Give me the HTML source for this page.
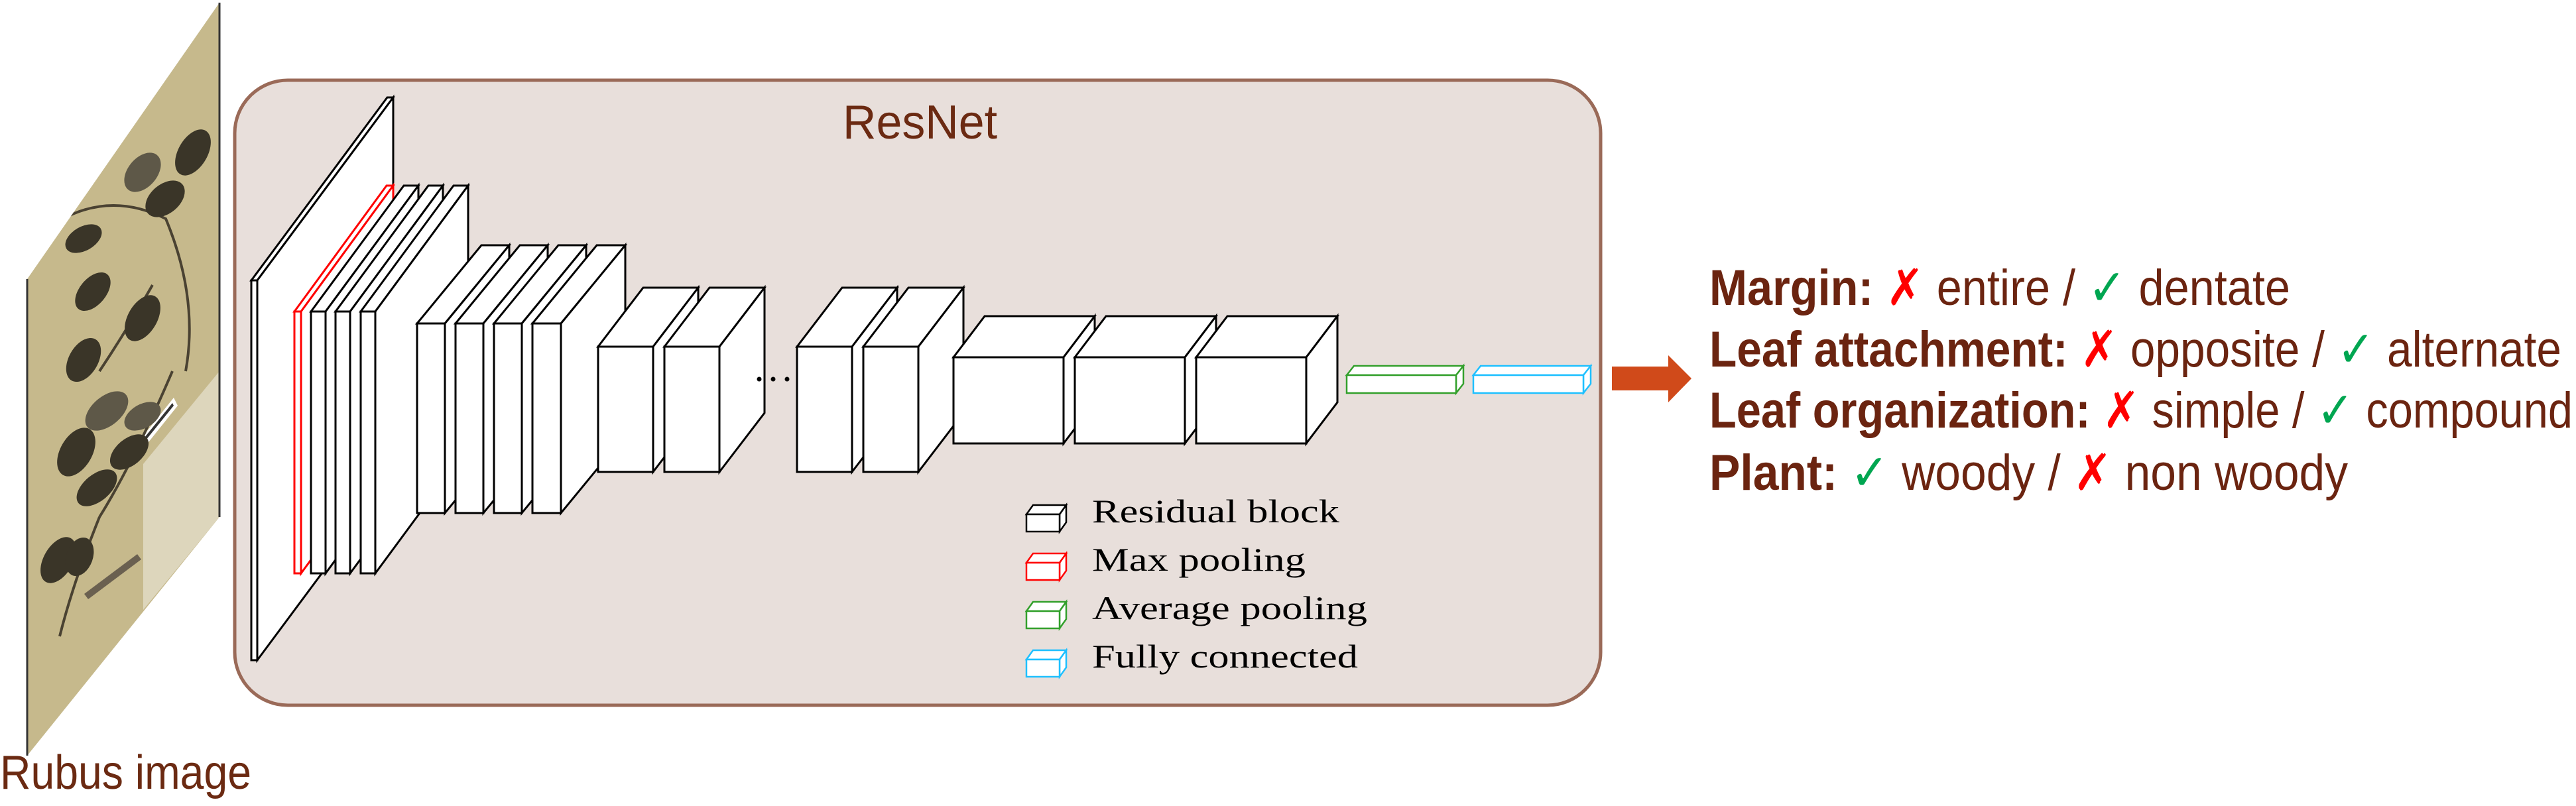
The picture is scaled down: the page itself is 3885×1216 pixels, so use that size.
<!DOCTYPE html>
<html><head><meta charset="utf-8"><style>
html,body{margin:0;padding:0;background:#fff;}
svg{display:block;}
</style></head><body>
<svg width="3885" height="1216" viewBox="0 0 3885 1216" xmlns="http://www.w3.org/2000/svg">
<defs>
<clipPath id="pl"><polygon points="41,421 331,4 331,780 41,1140"/></clipPath>
</defs>
<!-- herbarium plane -->
<polygon points="41,421 331,4 331,780 41,1140" fill="#c6b98c"/>
<g clip-path="url(#pl)">
  <polygon points="216,700 331,560 331,780 216,920" fill="#ddd6bc"/>
  <polygon points="214,660 262,600 268,612 220,672" fill="#fff"/>
  <polygon points="218,660 260,608 262,612 220,664" fill="#333"/>
  <polygon points="62,335 84,305 86,312 64,342" fill="#eee"/>
  <path d="M95 330 Q170 290 250 330 Q300 450 280 560 M230 430 Q190 500 150 560 M260 560 Q200 700 150 780 M150 780 Q110 880 90 960" stroke="#4a4232" stroke-width="4" fill="none"/>
  <g fill="#3a3528">
    <ellipse cx="291" cy="230" rx="38" ry="22" transform="rotate(-60 291 230)"/>
    <ellipse cx="249" cy="300" rx="34" ry="22" transform="rotate(-40 249 300)"/>
    <ellipse cx="126" cy="360" rx="30" ry="18" transform="rotate(-30 126 360)"/>
    <ellipse cx="140" cy="440" rx="34" ry="20" transform="rotate(-50 140 440)"/>
    <ellipse cx="126" cy="543" rx="36" ry="22" transform="rotate(-60 126 543)"/>
    <ellipse cx="215" cy="480" rx="38" ry="22" transform="rotate(-60 215 480)"/>
    <ellipse cx="115" cy="682" rx="40" ry="24" transform="rotate(-60 115 682)"/>
    <ellipse cx="195" cy="682" rx="34" ry="20" transform="rotate(-40 195 682)"/>
    <ellipse cx="146" cy="736" rx="36" ry="20" transform="rotate(-40 146 736)"/>
    <ellipse cx="88" cy="845" rx="38" ry="22" transform="rotate(-60 88 845)"/>
    <ellipse cx="120" cy="840" rx="30" ry="20" transform="rotate(-70 120 840)"/>
  </g>
  <g fill="#5e5848">
    <ellipse cx="215" cy="260" rx="34" ry="22" transform="rotate(-50 215 260)"/>
    <ellipse cx="161" cy="620" rx="38" ry="22" transform="rotate(-40 161 620)"/>
    <ellipse cx="215" cy="628" rx="30" ry="18" transform="rotate(-30 215 628)"/>
  </g>
  <path d="M130 900 L210 840" stroke="#6a6050" stroke-width="10"/>
</g>
<line x1="331" y1="4" x2="331" y2="780" stroke="#333" stroke-width="3"/>
<line x1="41" y1="421" x2="41" y2="1140" stroke="#333" stroke-width="3"/>
<text x="0" y="1190" font-family="Liberation Sans, sans-serif" font-size="72" fill="#6b2a12" textLength="379" lengthAdjust="spacingAndGlyphs">Rubus image</text>

<!-- panel -->
<rect x="354" y="121" width="2060" height="943" rx="80" ry="80" fill="#e8dfdb" stroke="#9a6a58" stroke-width="5"/>
<text x="1271" y="209" font-family="Liberation Sans, sans-serif" font-size="72" fill="#6b2a12" textLength="233" lengthAdjust="spacingAndGlyphs">ResNet</text>

<g stroke-width="3" stroke-linejoin="miter" fill="#fff">
<g stroke="#000">
<polygon points="379,423 584,147 593,147 388,423"/>
<polygon points="388,423 593,147 593,720 388,996"/>
<rect x="379" y="423" width="9" height="573"/>
</g>
<g stroke="#ff0000">
<polygon points="444,470 583,280 593,280 454,470"/>
<polygon points="454,470 593,280 593,675 454,865"/>
<rect x="444" y="470" width="10" height="395"/>
</g>
<g stroke="#000">
<polygon points="469,470 609,280 631,280 491,470"/><polygon points="491,470 631,280 631,675 491,865"/><rect x="469" y="470" width="22" height="395"/>
<polygon points="506,470 646,280 668,280 528,470"/><polygon points="528,470 668,280 668,675 528,865"/><rect x="506" y="470" width="22" height="395"/>
<polygon points="544,470 684,280 706,280 566,470"/><polygon points="566,470 706,280 706,675 566,865"/><rect x="544" y="470" width="22" height="395"/>
</g>
<g stroke="#000">
<polygon points="629,488 726,370 768,370 671,488"/><polygon points="671,488 768,370 768,656 671,774"/><rect x="629" y="488" width="42" height="286"/>
<polygon points="687,488 784,370 826,370 729,488"/><polygon points="729,488 826,370 826,656 729,774"/><rect x="687" y="488" width="42" height="286"/>
<polygon points="745,488 842,370 884,370 787,488"/><polygon points="787,488 884,370 884,656 787,774"/><rect x="745" y="488" width="42" height="286"/>
<polygon points="803,488 900,370 943,370 846,488"/><polygon points="846,488 943,370 943,656 846,774"/><rect x="803" y="488" width="43" height="286"/>
</g>
<g stroke="#000">
<polygon points="902,523 970,434 1053,434 985,523"/><polygon points="985,523 1053,434 1053,623 985,712"/><rect x="902" y="523" width="83" height="189"/>
<polygon points="1002,523 1070,434 1153,434 1085,523"/><polygon points="1085,523 1153,434 1153,623 1085,712"/><rect x="1002" y="523" width="83" height="189"/>
<polygon points="1202,523 1270,434 1353,434 1285,523"/><polygon points="1285,523 1353,434 1353,623 1285,712"/><rect x="1202" y="523" width="83" height="189"/>
<polygon points="1302,523 1370,434 1453,434 1385,523"/><polygon points="1385,523 1453,434 1453,623 1385,712"/><rect x="1302" y="523" width="83" height="189"/>
</g>
<g stroke="#000">
<polygon points="1438,539 1485,477 1651,477 1604,539"/><polygon points="1604,539 1651,477 1651,607 1604,669"/><rect x="1438" y="539" width="166" height="130"/>
<polygon points="1621,539 1668,477 1834,477 1787,539"/><polygon points="1787,539 1834,477 1834,607 1787,669"/><rect x="1621" y="539" width="166" height="130"/>
<polygon points="1804,539 1851,477 2017,477 1970,539"/><polygon points="1970,539 2017,477 2017,607 1970,669"/><rect x="1804" y="539" width="166" height="130"/>
</g>
<g stroke="#33a02c" stroke-width="2.5">
<polygon points="2031,566 2042,552 2207,552 2196,566"/><polygon points="2196,566 2207,552 2207,579 2196,593"/><rect x="2031" y="566" width="165" height="27"/>
</g>
<g stroke="#1ec0ff" stroke-width="2.5">
<polygon points="2222,566 2233,552 2399,552 2388,566"/><polygon points="2388,566 2399,552 2399,579 2388,593"/><rect x="2222" y="566" width="166" height="27"/>
</g>
<g stroke="#000" stroke-width="2.5"><polygon points="1548,776 1558,762 1608,762 1598,776"/><polygon points="1598,776 1608,762 1608,788 1598,802"/><rect x="1548" y="776" width="50" height="26"/></g>
<g stroke="#ff0000" stroke-width="2.5"><polygon points="1548,849 1558,835 1608,835 1598,849"/><polygon points="1598,849 1608,835 1608,861 1598,875"/><rect x="1548" y="849" width="50" height="26"/></g>
<g stroke="#33a02c" stroke-width="2.5"><polygon points="1548,922 1558,908 1608,908 1598,922"/><polygon points="1598,922 1608,908 1608,934 1598,948"/><rect x="1548" y="922" width="50" height="26"/></g>
<g stroke="#1ec0ff" stroke-width="2.5"><polygon points="1548,995 1558,981 1608,981 1598,995"/><polygon points="1598,995 1608,981 1608,1007 1598,1021"/><rect x="1548" y="995" width="50" height="26"/></g>
</g>
<g fill="#000"><circle cx="1145" cy="572" r="3.5"/><circle cx="1166" cy="572" r="3.5"/><circle cx="1187" cy="572" r="3.5"/></g>
<g font-family="Liberation Serif, serif" font-size="50" fill="#000">
<text x="1647" y="788" textLength="373" lengthAdjust="spacingAndGlyphs">Residual block</text>
<text x="1647" y="861" textLength="322" lengthAdjust="spacingAndGlyphs">Max pooling</text>
<text x="1647" y="934" textLength="415" lengthAdjust="spacingAndGlyphs">Average pooling</text>
<text x="1647" y="1007" textLength="401" lengthAdjust="spacingAndGlyphs">Fully connected</text>
</g>

<!-- arrow -->
<polygon points="2431,553 2516,553 2516,536 2551,571 2516,607 2516,589 2431,589" fill="#d04a1a"/>

<!-- output text -->
<g font-family="Liberation Sans, DejaVu Sans, sans-serif" font-size="76" fill="#6b2410">
<text x="2578" y="460" textLength="876" lengthAdjust="spacingAndGlyphs"><tspan font-weight="bold">Margin:</tspan>  <tspan fill="#ff0000" font-weight="bold">✗</tspan> entire / <tspan fill="#00a651" font-weight="bold">✓</tspan> dentate</text>
<text x="2578" y="553" textLength="1285" lengthAdjust="spacingAndGlyphs"><tspan font-weight="bold">Leaf attachment:</tspan> <tspan fill="#ff0000" font-weight="bold">✗</tspan> opposite / <tspan fill="#00a651" font-weight="bold">✓</tspan> alternate</text>
<text x="2578" y="645" textLength="1302" lengthAdjust="spacingAndGlyphs"><tspan font-weight="bold">Leaf organization:</tspan> <tspan fill="#ff0000" font-weight="bold">✗</tspan> simple / <tspan fill="#00a651" font-weight="bold">✓</tspan> compound</text>
<text x="2578" y="739" textLength="963" lengthAdjust="spacingAndGlyphs"><tspan font-weight="bold">Plant:</tspan> <tspan fill="#00a651" font-weight="bold">✓</tspan> woody / <tspan fill="#ff0000" font-weight="bold">✗</tspan> non woody</text>
</g>
</svg>
</body></html>
